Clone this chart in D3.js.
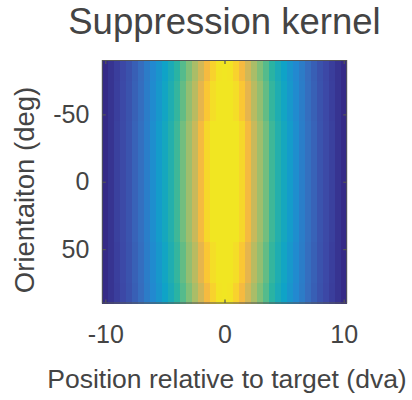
<!DOCTYPE html>
<html>
<head>
<meta charset="utf-8">
<script src="https://cdnjs.cloudflare.com/ajax/libs/d3/7.8.5/d3.min.js"></script>
<style>
  body { margin: 0; background: #fff; }
  text { font-family: "Liberation Sans", Arial, Helvetica, sans-serif; fill: #444; }
</style>
</head>
<body>
<div id="chart"></div>
<script>
// position of each column centre (dva)
var positions = [-10, -9.5, -9, -8.5, -8, -7.5, -7, -6.5, -6, -5.5, -5, -4.5, -4, -3.5, -3, -2.5, -2, -1.5, -1, -0.5,
  0, 0.5, 1, 1.5, 2, 2.5, 3, 3.5, 4, 4.5, 5, 5.5, 6, 6.5, 7, 7.5, 8, 8.5, 9, 9.5, 10];

// orientation bin centres (deg)
var orientations = [-82.5, -67.5, -52.5, -37.5, -22.5, -7.5, 7.5, 22.5, 37.5, 52.5, 67.5, 82.5];

// kernel profiles (normalised), outer / intermediate / middle rows
var profileOuter = [0.00, 0.02, 0.04, 0.06, 0.085, 0.12, 0.155, 0.21, 0.26, 0.31, 0.365, 0.42, 0.49, 0.555, 0.60, 0.667, 0.75, 0.83, 0.885, 0.925,
  0.95, 0.925, 0.885, 0.83, 0.75, 0.667, 0.60, 0.555, 0.49, 0.42, 0.365, 0.31, 0.26, 0.21, 0.155, 0.12, 0.085, 0.06, 0.04, 0.02, 0.00];
var profileInter = [0.00, 0.02, 0.042, 0.062, 0.088, 0.125, 0.158, 0.215, 0.27, 0.32, 0.38, 0.44, 0.505, 0.57, 0.63, 0.70, 0.79, 0.865, 0.91, 0.94,
  0.95, 0.94, 0.91, 0.865, 0.79, 0.70, 0.63, 0.57, 0.505, 0.44, 0.38, 0.32, 0.27, 0.215, 0.158, 0.125, 0.088, 0.062, 0.042, 0.02, 0.00];
var profileMiddle = [0.00, 0.02, 0.045, 0.065, 0.09, 0.13, 0.165, 0.22, 0.28, 0.335, 0.395, 0.46, 0.52, 0.585, 0.65, 0.73, 0.83, 0.895, 0.93, 0.945,
  0.95, 0.945, 0.93, 0.895, 0.83, 0.73, 0.65, 0.585, 0.52, 0.46, 0.395, 0.335, 0.28, 0.22, 0.165, 0.13, 0.09, 0.065, 0.045, 0.02, 0.00];

// which profile each orientation row uses
var rowProfiles = [profileOuter, profileInter, profileInter, profileMiddle, profileMiddle, profileMiddle,
  profileMiddle, profileMiddle, profileMiddle, profileInter, profileInter, profileOuter];

var xTicks = [-10, 0, 10];
var yTicks = [-50, 0, 50];

// parula-like colour map as it looks in the picture
var cmapStops = [0, 0.06, 0.155, 0.26, 0.365, 0.49, 0.555, 0.60, 0.667, 0.746, 0.81, 0.855, 0.89, 0.93];
var cmapColors = ["#352a87", "#3c48a6", "#366dbe", "#2289d0", "#0fa3c7", "#2ab3a3", "#55bb8c", "#80bf78",
  "#aabd68", "#cfb858", "#f0b448", "#fbc237", "#f7d52b", "#f1e622"];

var _width = 412,
  _height = 400,
  _box = { left: 102.3, right: 346.7, top: 60.5, bottom: 303 },
  _tick = 3.5;

var svg = d3.select("#chart").append("svg")
  .attr("width", _width)
  .attr("height", _height);

var x = d3.scaleLinear().domain([-10.25, 10.25]).range([_box.left, _box.right]);
var y = d3.scaleLinear().domain([-90, 90]).range([_box.top, _box.bottom]);
var color = d3.scaleLinear().domain(cmapStops).range(cmapColors)
  .interpolate(d3.interpolateRgb).clamp(true);

var cells = [];
orientations.forEach(function(o, i) {
  positions.forEach(function(p, j) {
    cells.push({ pos: p, ori: o, value: rowProfiles[i][j] });
  });
});

svg.append("g")
  .attr("class", "cells")
  .attr("shape-rendering", "crispEdges")
  .selectAll("rect")
  .data(cells)
  .enter().append("rect")
  .attr("x", function(d) { return x(d.pos - 0.25); })
  .attr("y", function(d) { return y(d.ori - 7.5); })
  .attr("width", function(d) { return x(d.pos + 0.25) - x(d.pos - 0.25) + 0.5; })
  .attr("height", function(d) { return y(d.ori + 7.5) - y(d.ori - 7.5) + 0.5; })
  .attr("fill", function(d) { return color(d.value); });

function plain(d) { return String(d); }

function styleAxis(g) {
  g.select(".domain").remove();
  g.selectAll(".tick line").attr("stroke", "#555").attr("stroke-width", 1.2);
  g.selectAll(".tick text").attr("font-size", 25).attr("fill", "#444");
}

svg.append("g")
  .attr("transform", "translate(0," + _box.bottom + ")")
  .call(d3.axisBottom(x).tickValues(xTicks).tickSize(-_tick).tickPadding(22).tickFormat(plain))
  .call(styleAxis);

svg.append("g")
  .attr("transform", "translate(0," + _box.top + ")")
  .call(d3.axisTop(x).tickValues(xTicks).tickSize(-_tick).tickFormat(""))
  .call(styleAxis);

svg.append("g")
  .attr("transform", "translate(" + _box.left + ",0)")
  .call(d3.axisLeft(y).tickValues(yTicks).tickSize(-_tick).tickPadding(13).tickFormat(plain))
  .call(styleAxis);

svg.append("g")
  .attr("transform", "translate(" + _box.right + ",0)")
  .call(d3.axisRight(y).tickValues(yTicks).tickSize(-_tick).tickFormat(""))
  .call(styleAxis);

svg.append("rect")
  .attr("x", _box.left)
  .attr("y", _box.top)
  .attr("width", _box.right - _box.left)
  .attr("height", _box.bottom - _box.top)
  .attr("fill", "none")
  .attr("stroke", "#555")
  .attr("stroke-width", 1);

svg.append("text")
  .attr("x", (_box.left + _box.right) / 2)
  .attr("y", 34)
  .attr("text-anchor", "middle")
  .attr("font-size", 36.5)
  .text("Suppression kernel");

svg.append("text")
  .attr("x", 227)
  .attr("y", 388)
  .attr("text-anchor", "middle")
  .attr("font-size", 26.5)
  .text("Position relative to target (dva)");

svg.append("text")
  .attr("transform", "translate(34,190) rotate(-90)")
  .attr("text-anchor", "middle")
  .attr("font-size", 27.5)
  .text("Orientaiton (deg)");
</script>
</body>
</html>
